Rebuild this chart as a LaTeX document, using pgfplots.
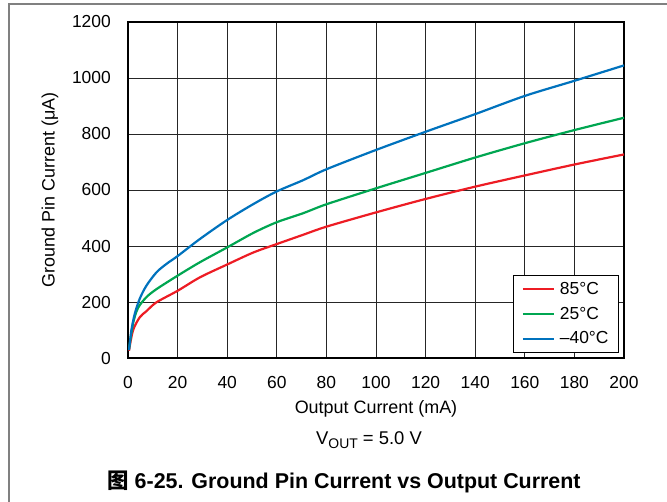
\documentclass[border=0pt]{standalone}
\usepackage{fontspec}
\setmainfont{Liberation Sans}
\newfontfamily\cjk{Noto Sans CJK SC}
\usepackage{pgfplots}
\pgfplotsset{compat=1.18}
\definecolor{cred}{RGB}{237,28,36}
\definecolor{cgreen}{RGB}{0,166,81}
\definecolor{cblue}{RGB}{0,114,189}
\begin{document}
\begin{tikzpicture}
\useasboundingbox (0bp,0bp) rectangle (667bp,502bp);
\draw[black!50, line width=1.5bp] (9bp,0bp) -- (9bp,498bp) -- (667bp,498bp);
\begin{axis}[
  at={(128bp,144bp)}, anchor=south west,
  scale only axis, width=496bp, height=336bp,
  xmin=0, xmax=200, ymin=0, ymax=1200,
  xtick={0,20,...,200}, ytick={0,200,...,1200},
  grid=major, major grid style={black!85, line width=0.9bp},
  major tick length=0pt,
  axis line style={line width=2.2bp},
  /pgf/number format/assume math mode=true,
  /pgf/number format/1000 sep={},
  tick label style={font=\fontsize{17.5}{20}\selectfont},
  xticklabel style={anchor=north, inner sep=0pt, yshift=-18bp},
  yticklabel style={anchor=east, inner sep=0pt, xshift=-17bp},
  xlabel={Output Current (mA)},
  ylabel={Ground Pin Current (μA)},
  label style={font=\fontsize{18}{21}\selectfont},
  xlabel style={at={(axis description cs:0.5,0)}, anchor=center, yshift=-51bp},
  ylabel style={at={(axis description cs:0,0.5)}, anchor=center, yshift=78bp},
  legend style={at={(axis description cs:0.99,0.015)}, anchor=south east,
    draw=black, line width=1bp, font=\fontsize{17.5}{20}\selectfont,
    inner xsep=8bp, inner ysep=5bp, row sep=7bp},
  legend cell align=left,
  legend image code/.code={\draw[#1, line width=2.2bp] (0bp,0bp) -- (31bp,0bp);},
  /tikz/every odd column/.append style={column sep=3bp},
]
\addplot[cred, line width=2.2bp, smooth] coordinates {
(0.4,26) (2,98) (4.7,145) (7.4,167) (11.5,199) (20,240) (29,288) (40,334) (50.6,377) (60,407) (70.6,440) (80,469) (100,520) (120,568) (140,612) (160,652) (180,691) (200,727)};
\addlegendentry{85°C}
\addplot[cgreen, line width=2.2bp, smooth] coordinates {
(0.4,32) (2,122) (4,178) (7.4,217) (11.5,246) (20,294) (29,342) (40,395) (50.6,447) (60,485) (70.6,517) (80,549) (100,606) (120,661) (140,716) (160,767) (180,814) (200,858)};
\addlegendentry{25°C}
\addplot[cblue, line width=2.2bp, smooth] coordinates {
(0.4,28) (1.35,98) (2.7,157) (4.7,211) (7.4,258) (11.5,306) (15.5,336) (20,364) (29,425) (40,493) (50.6,550) (60,595) (70.6,635) (80,674) (100,743) (120,808) (140,871) (160,936) (180,990) (200,1045)};
\addlegendentry{–40°C}
\end{axis}
\node[font=\fontsize{18.5}{21}\selectfont] at (369bp,62bp) {V\raisebox{-0.35ex}{\fontsize{14}{14}\selectfont OUT} = 5.0 V};
\node[font=\fontsize{21.5}{24}\selectfont\bfseries] at (344bp,20bp) {{\cjk 图} 6-25. Ground Pin Current vs Output Current};
\end{tikzpicture}
\end{document}
